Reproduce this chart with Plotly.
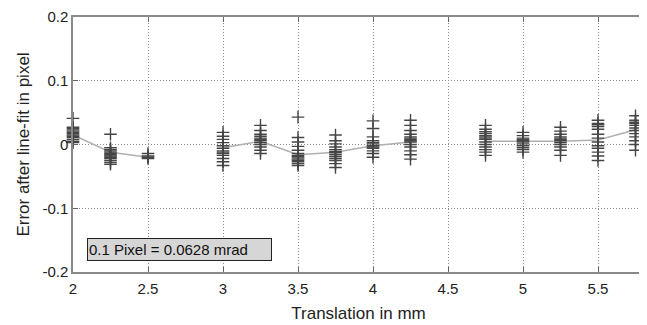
import plotly.graph_objects as go

positions = [2.0, 2.25, 2.5, 3.0, 3.25, 3.5, 3.75, 4.0, 4.25, 4.75, 5.0, 5.25, 5.5, 5.75]
samples = [
    [0.041, 0.027, 0.025, 0.023, 0.021, 0.019, 0.017, 0.015, 0.013, 0.011, 0.008, 0.005, 0.003],
    [0.016, -0.005, -0.008, -0.010, -0.012, -0.014, -0.016, -0.018, -0.020, -0.022, -0.025, -0.028, -0.031],
    [-0.014, -0.018, -0.020, -0.022],
    [0.019, 0.013, 0.008, 0.003, -0.002, -0.006, -0.010, -0.012, -0.014, -0.017, -0.022, -0.027, -0.033],
    [0.030, 0.022, 0.016, 0.013, 0.010, 0.008, 0.006, 0.003, 0.000, -0.004, -0.009, -0.014],
    [0.043, 0.011, 0.004, -0.003, -0.009, -0.014, -0.017, -0.019, -0.021, -0.023, -0.025, -0.027, -0.030, -0.033],
    [0.015, 0.006, 0.001, -0.004, -0.008, -0.011, -0.013, -0.016, -0.019, -0.022, -0.025, -0.030, -0.036],
    [0.037, 0.025, 0.012, 0.006, 0.003, 0.001, -0.002, -0.004, -0.006, -0.010, -0.014, -0.020],
    [0.038, 0.030, 0.022, 0.016, 0.012, 0.010, 0.008, 0.006, 0.004, 0.000, -0.004, -0.010, -0.016, -0.023],
    [0.030, 0.024, 0.020, 0.017, 0.014, 0.012, 0.010, 0.008, 0.004, 0.000, -0.004, -0.008, -0.012, -0.017],
    [0.019, 0.014, 0.010, 0.008, 0.006, 0.004, 0.001, -0.002, -0.005, -0.008, -0.012],
    [0.027, 0.021, 0.016, 0.012, 0.010, 0.008, 0.006, 0.003, 0.000, -0.004, -0.009, -0.017],
    [0.038, 0.033, 0.031, 0.028, 0.024, 0.016, 0.010, 0.004, -0.002, -0.006, -0.012, -0.018, -0.025],
    [0.045, 0.038, 0.035, 0.033, 0.030, 0.026, 0.022, 0.017, 0.012, 0.006, 0.000, -0.009],
]
means = [0.015, -0.012, -0.020, -0.005, 0.005, -0.016, -0.012, -0.002, 0.004, 0.005, 0.005, 0.005, 0.007, 0.023]
segments = [[0, 1, 2], [3, 4, 5, 6, 7, 8], [9, 10, 11, 12, 13]]

x_ticks = [2, 2.5, 3, 3.5, 4, 4.5, 5, 5.5]
x_tick_text = ["2", "2.5", "3", "3.5", "4", "4.5", "5", "5.5"]
y_ticks = [-0.2, -0.1, 0, 0.1, 0.2]
y_tick_text = ["-0.2", "-0.1", "0", "0.1", "0.2"]

fig = go.Figure()

for seg in segments:
    fig.add_trace(go.Scatter(
        x=[positions[i] for i in seg], y=[means[i] for i in seg],
        mode="lines", line=dict(color="#b0b0b0", width=1.5),
        showlegend=False, hoverinfo="skip", cliponaxis=False))

xs, ys = [], []
for p, s in zip(positions, samples):
    xs += [p] * len(s)
    ys += s
fig.add_trace(go.Scatter(
    x=xs, y=ys, mode="markers", cliponaxis=False,
    marker=dict(symbol="cross-thin", size=9, line=dict(color="#454545", width=1.4)),
    showlegend=False))

font = "Liberation Sans, Arial, sans-serif"
fig.update_layout(
    width=647, height=325,
    margin=dict(l=65, r=11, t=9, b=61),
    paper_bgcolor="white", plot_bgcolor="white",
    font=dict(family=font, size=14, color="#222"),
    xaxis=dict(
        range=[2, 2 + 571 / 150], tickvals=x_ticks, ticktext=x_tick_text,
        showgrid=True, gridcolor="#8a8a8a", griddash="1px,2px", gridwidth=1,
        showline=True, linecolor="#8a8a8a", linewidth=1.5, mirror="ticks",
        ticks="inside", ticklen=5, tickcolor="#666", zeroline=False,
        automargin=False, tickfont=dict(size=15), ticklabelstandoff=2,
        ticklabeloverflow="allow",
        title=dict(text="Translation in mm", standoff=11),
    ),
    yaxis=dict(
        range=[-0.2, 0.2], tickvals=y_ticks, ticktext=y_tick_text,
        showgrid=True, gridcolor="#8a8a8a", griddash="1px,2px", gridwidth=1,
        showline=True, linecolor="#8a8a8a", linewidth=1.5,
        ticks="inside", ticklen=5, tickcolor="#666", zeroline=False,
        automargin=False, tickfont=dict(size=15), ticklabeloverflow="allow",
        title=dict(text="Error after line-fit in pixel", standoff=8),
    ),
)

fig.add_annotation(
    x=2.71, y=-0.164, xref="x", yref="y",
    text="0.1 Pixel = 0.0628 mrad", showarrow=False,
    font=dict(family=font, size=15, color="#111"),
    bgcolor="#d6d6d6", bordercolor="#222", borderwidth=1,
    width=181, height=19, align="left", borderpad=1,
)

fig.write_html("out.html")
